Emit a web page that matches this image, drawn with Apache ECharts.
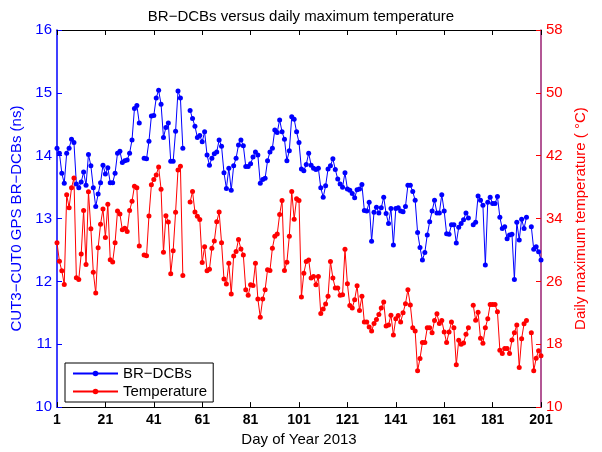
<!DOCTYPE html>
<html>
<head>
<meta charset="utf-8">
<script src="https://cdn.jsdelivr.net/npm/echarts@6/dist/echarts.min.js"></script>
<style>
  html, body { margin: 0; padding: 0; background: #fff; }
  #main { width: 602px; height: 452px; }
</style>
</head>
<body>
<div id="main"></div>
<script type="text/javascript">

	// day of year 1..201 (category labels)
	var days = [];
	for (var d = 1; d <= 201; d++) { days.push(d); }

	// BR-DCBs (ns), null = no data that day
	var dcbs = [
		14.12, 14.04, 13.72, 13.56, 14.04, 14.12, 14.26, 14.21, 13.55, 13.49,
		13.58, 13.74, 13.53, 14.02, 13.84, 13.49, 13.19, 13.39, 13.57, 13.85,
		13.71, 13.81, 13.57, 13.57, 13.72, 14.04, 14.07, 13.89, 13.92, 13.93,
		14.04, 14.25, 14.75, 14.80, 14.52, null, 13.96, 13.95, 14.23, 14.63,
		14.64, 14.92, 15.04, 14.82, 14.29, 14.45, 14.52, 13.91, 13.91, 14.39,
		15.03, 14.92, 14.12, null, null, 14.72, 14.59, 14.47, 14.29, 14.32,
		14.22, 14.38, 14.01, 13.85, 13.96, 14.03, 14.06, 14.25, 14.15, 13.73,
		13.48, 13.80, 13.45, 13.84, 13.96, 14.17, 14.25, 14.16, 13.83, 13.83,
		13.87, 13.98, 14.06, 14.01, 13.56, 13.62, 13.64, 13.92, 14.06, 14.12,
		14.41, 14.37, 14.57, 14.38, 14.26, 13.92, 14.08, 14.62, 14.58, 14.38,
		14.21, 13.79, 13.76, 13.86, 14.04, 13.85, 13.80, 13.78, 13.80, 13.49,
		13.34, 13.52, 13.79, 13.84, 13.95, 13.78, 13.63, 13.55, 13.50, 13.73,
		13.47, 13.45, 13.40, 13.33, 13.46, 13.47, 13.54, 13.13, 13.12, 13.26,
		12.64, 13.10, 13.18, 13.09, 13.17, 13.34, 13.08, 12.92, 13.16, 12.58,
		13.16, 13.17, 13.12, 13.11, 13.19, 13.53, 13.53, 13.43, 13.29, 12.78,
		12.54, 12.34, 12.46, 12.74, 12.95, 13.12, 13.29, 13.09, 13.09, 13.38,
		13.12, 12.76, 12.75, 12.90, 12.90, 12.61, 12.86, 12.92, 12.98, 13.09,
		13.01, null, 12.90, 12.94, 13.36, 13.29, 13.21, 12.26, 13.26, 13.34,
		13.24, 13.24, 13.35, 13.02, 12.84, 12.87, 12.68, 12.74, 12.75, 12.03,
		12.94, 12.66, 12.99, 12.84, 13.02, null, 12.87, 12.51, 12.55, 12.47,
		12.34
	];

	// daily maximum temperature (degC)
	var temps = [
		30.92, 28.56, 27.34, 25.62, 37.03, 35.39, 37.91, 39.17, 26.46, 26.25,
		29.49, 35.01, 28.14, 37.41, 32.69, 27.17, 24.52, 30.29, 33.28, 35.22,
		31.60, 35.81, 28.77, 28.48, 30.92, 34.96, 34.59, 32.56, 32.77, 32.35,
		35.01, 36.19, 38.12, 37.91, 30.50, null, 29.36, 29.28, 34.33, 38.29,
		38.96, 39.55, 40.56, 37.74, 29.70, 34.37, 33.57, 26.96, 29.91, 34.80,
		40.19, 40.65, 26.75, null, null, 36.10, 37.45, 34.84, 34.29, 33.87,
		28.40, 30.42, 27.34, 27.55, 30.21, 31.13, 33.58, 34.84, 30.92, 26.29,
		25.66, 28.31, 24.40, 29.24, 29.79, 31.34, 30.12, 29.36, 24.94, 24.23,
		25.57, 25.49, 28.31, 23.76, 21.45, 23.76, 24.94, 27.47, 27.39, 30.21,
		31.76, 32.02, 34.50, 36.31, 27.39, 28.44, 31.76, 37.45, 33.91, 36.52,
		36.31, 24.02, 27.05, 28.52, 28.73, 26.42, 26.63, 25.57, 26.63, 21.91,
		22.50, 23.13, 24.10, 28.52, 26.42, 25.15, 25.15, 24.23, 24.31, 30.08,
		25.70, 22.92, 22.63, 23.68, 25.45, 22.29, 24.10, 20.82, 20.82, 20.19,
		19.68, 20.65, 21.15, 21.79, 22.63, 23.39, 20.31, 20.44, 21.70, 19.17,
		21.24, 21.66, 20.82, 22.00, 23.17, 24.94, 23.01, 20.10, 19.68, 14.63,
		16.19, 18.21, 18.21, 20.10, 20.10, 19.47, 21.03, 21.87, 20.65, 21.03,
		19.56, 18.21, 19.56, 20.82, 20.10, 15.39, 18.50, 18.00, 18.17, 19.26,
		20.10, null, 22.97, 21.07, 22.08, 18.76, 18.12, 20.10, 21.24, 23.05,
		23.05, 23.05, 22.13, 17.24, 16.82, 17.45, 17.45, 16.82, 18.54, 19.47,
		20.44, 15.05, 18.71, 20.61, 21.03, null, 19.47, 14.63, 16.23, 17.16,
		16.53
	];

	var FONT = '"Liberation Sans", Arial, Helvetica, sans-serif';

	var chart = echarts.init(document.getElementById('main'), null, {renderer: 'canvas'});
	chart.setOption({
		animation: false,
		backgroundColor: '#fff',
		textStyle: { fontFamily: FONT },
		title: {
			text: 'BR\u2212DCBs versus daily maximum temperature',
			left: 'center',
			top: 4,
			textStyle: { fontFamily: FONT, fontSize: 15, fontWeight: 'normal', color: '#000' }
		},
		grid: { left: 57, right: 61, top: 30, bottom: 42, containLabel: false },
		legend: {
			orient: 'vertical',
			left: 65,
			top: 363,
			padding: [3, 6, 3, 7],
			itemGap: 3,
			itemWidth: 45,
			itemHeight: 7,
			borderColor: '#000',
			borderWidth: 1,
			backgroundColor: '#fff',
			textStyle: { fontFamily: FONT, fontSize: 15, color: '#000' },
			data: ['BR\u2212DCBs', 'Temperature']
		},
		xAxis: [
			{
				type: 'category',
				data: days,
				boundaryGap: false,
				position: 'bottom',
				name: 'Day of Year 2013',
				nameLocation: 'middle',
				nameGap: 22,
				nameTextStyle: { fontFamily: FONT, fontSize: 15, color: '#000' },
				axisLine: { lineStyle: { color: '#000', width: 1 } },
				axisTick: { inside: true, length: 5, interval: 19, lineStyle: { color: '#000' } },
				axisLabel: { interval: 19, margin: 6, color: '#000', fontSize: 14, fontWeight: 'bold', fontFamily: FONT },
				splitLine: { show: false }
			},
			{
				type: 'category',
				data: days,
				boundaryGap: false,
				position: 'top',
				axisLine: { lineStyle: { color: '#000', width: 1 } },
				axisTick: { inside: true, length: 5, interval: 19, lineStyle: { color: '#000' } },
				axisLabel: { show: false },
				splitLine: { show: false }
			}
		],
		yAxis: [
			{
				type: 'value',
				position: 'left',
				min: 10,
				max: 16,
				interval: 1,
				name: 'CUT3\u2212CUT0 GPS BR\u2212DCBs (ns)',
				nameLocation: 'middle',
				nameGap: 24,
				nameTextStyle: { fontFamily: FONT, fontSize: 15, color: '#0000ff' },
				axisLine: { show: true, lineStyle: { color: '#0000ff', width: 1.5 } },
				axisTick: { show: true, inside: true, length: 5, lineStyle: { color: '#0000ff' } },
				axisLabel: { color: '#0000ff', fontSize: 15, margin: 5, fontFamily: FONT },
				splitLine: { show: false }
			},
			{
				type: 'value',
				position: 'right',
				min: 10,
				max: 58,
				interval: 8,
				name: 'Daily maximum temperature ( \u00B0C)',
				nameLocation: 'middle',
				nameGap: 26,
				nameRotate: 90,
				nameTextStyle: { fontFamily: FONT, fontSize: 15, color: '#ff0000' },
				axisLine: { show: true, lineStyle: { color: '#9a1f72', width: 1.5 } },
				axisTick: { show: true, inside: true, length: 5, lineStyle: { color: '#ff0000' } },
				axisLabel: { color: '#ff0000', fontSize: 15, margin: 5, fontFamily: FONT },
				splitLine: { show: false }
			}
		],
		series: [
			{
				name: 'BR\u2212DCBs',
				type: 'line',
				xAxisIndex: 0,
				yAxisIndex: 0,
				data: dcbs,
				symbol: 'circle',
				symbolSize: 5,
				showAllSymbol: true,
				connectNulls: false,
				itemStyle: { color: '#0000ff' },
				lineStyle: { color: '#0000ff', width: 1 }
			},
			{
				name: 'Temperature',
				type: 'line',
				xAxisIndex: 0,
				yAxisIndex: 1,
				data: temps,
				symbol: 'circle',
				symbolSize: 5,
				showAllSymbol: true,
				connectNulls: false,
				itemStyle: { color: '#ff0000' },
				lineStyle: { color: '#ff0000', width: 1 }
			}
		]
	});

</script>
</body>
</html>
